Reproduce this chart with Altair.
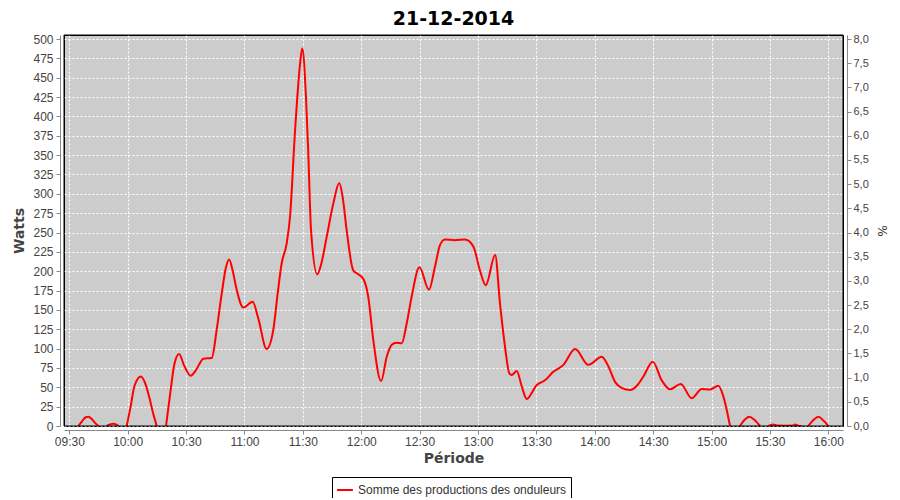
import datetime as dt
import altair as alt
import pandas as pd

TITLE = "21-12-2014"
SERIES = "Somme des productions des onduleurs"

# minutes after 09:30 and watts; one list per visible stretch
seg_minutes = [
    [4.6, 6.5, 8.2, 9.8, 11.5, 13.2, 14.9],
    [19.2, 21.0, 22.6, 24.0, 25.2],
    [29.5, 31.5, 33.5, 36.8, 39.0, 41.0, 43.0, 44.9],
    [49.7, 52.0, 54.0, 56.4, 59.0, 62.4, 65.0, 68.9, 73.2, 75.7, 78.3, 80.5, 82.1,
     84.0, 86.0, 89.4, 94.2, 97.0, 101.4, 104.8, 107.0, 109.1, 111.7, 113.4, 116.0,
     118.6, 119.7, 121.6, 122.8, 124.2, 127.4, 129.5, 132.3, 135.7, 138.7, 140.5,
     142.5, 145.9, 148.5, 151.1, 153.6, 156.2, 160.2, 163.1, 165.7, 168.0, 170.8,
     173.4, 175.9, 179.9, 184.8, 187.9, 190.5, 193.0, 198.0, 203.3, 207.6, 211.0,
     214.0, 218.8, 221.3, 223.9, 226.1, 227.3, 229.9, 232.5, 235.0, 240.2, 244.4,
     248.7, 253.9, 259.9, 266.7, 273.6, 277.0, 280.4, 284.0, 288.1, 292.0, 295.0,
     299.8, 304.4, 308.7, 314.2, 319.8, 325.0, 329.2, 333.5, 336.1, 339.5],
    [344.6, 347.0, 349.4, 352.0, 354.9],
    [359.2, 361.5, 364.0, 368.0, 372.0, 373.0, 374.5, 376.4],
    [379.7, 382.5, 384.9, 387.5, 390.0],
]
seg_watts = [
    [0, 6, 11, 12, 9, 4, 0],
    [0, 2, 3, 2, 0],
    [0, 25, 52, 64, 55, 38, 17, 0],
    [0, 45, 80, 93, 78, 65, 72, 87, 88, 124, 171, 205, 215,
     200, 176, 153, 160.6, 140, 99.5, 124, 170, 210, 236, 270, 382,
     469, 488, 425, 352, 253, 196, 210, 245, 288, 314, 295,
     253, 201, 196, 190, 167, 111, 58, 89.5, 105, 107.7, 107,
     133, 167, 205, 176, 206, 234, 241, 240, 241, 232, 201,
     182, 221, 158, 102, 68, 66, 71, 51, 35, 53, 59,
     70, 79, 99.5, 79, 89.5, 77, 57, 49, 46.5, 53, 64,
     83, 59, 47.4, 54.3, 35.8, 47.8, 47, 52, 38, 0],
    [0, 8, 12, 8, 0],
    [0, 2, 0.5, 0.3, 0.5, 2, 0.5, 0],
    [0, 8, 12, 7, 0],
]

x_ticks = ["09:30", "10:00", "10:30", "11:00", "11:30", "12:00", "12:30", "13:00",
           "13:30", "14:00", "14:30", "15:00", "15:30", "16:00"]
watt_ticks = list(range(0, 501, 25))
pct_ticks = [i * 0.5 for i in range(17)]

base = dt.datetime(2014, 12, 21, 9, 30)
rows = []
for k, (ms, ws) in enumerate(zip(seg_minutes, seg_watts)):
    for m, w in zip(ms, ws):
        t = base + dt.timedelta(minutes=m)
        rows.append({"t": t.strftime("%Y-%m-%dT%H:%M:%S"), "w": w, "seg": k, "s": SERIES})
df = pd.DataFrame(rows)


def dtobj(hh, mm, ss=0):
    return alt.DateTime(year=2014, month=12, date=21, hours=hh, minutes=mm, seconds=ss)


x_values = [dtobj(int(s[:2]), int(s[3:])) for s in x_ticks]
x_dom = [dtobj(9, 27, 16), dtobj(16, 7, 33)]

LBL = "Liberation Sans"
TTL = "DejaVu Sans"

x_enc = alt.X("t:T", scale=alt.Scale(domain=x_dom, nice=False),
              axis=alt.Axis(values=x_values, format="%H:%M", title="Période",
                            grid=True, gridColor="white", gridDash=[2, 2], gridOpacity=1,
                            gridWidth=1.2,
                            domainColor="#888888", tickColor="#888888", tickSize=4,
                            offset=4, labelFont=LBL, labelFontSize=12, labelColor="#444444",
                            labelPadding=2, titleFont=TTL, titleFontSize=14,
                            titleFontWeight="bold", titleColor="#444444", titlePadding=4))

line = alt.Chart(df).mark_line(strokeWidth=2, interpolate="monotone", clip=True).encode(
    x=x_enc,
    y=alt.Y("w:Q", scale=alt.Scale(domain=[0, 505.2], nice=False, zero=False),
            axis=alt.Axis(values=watt_ticks, title="Watts", grid=True, gridColor="white",
                          gridDash=[2, 2], gridOpacity=1, gridWidth=1.2,
                          domainColor="#888888",
                          tickColor="#888888", tickSize=4, offset=4, labelFont=LBL,
                          labelFontSize=12, labelColor="#444444", labelPadding=3,
                          titleFont=TTL, titleFontSize=14, titleFontWeight="bold",
                          titleColor="#444444", titlePadding=6)),
    detail="seg:N",
    color=alt.Color("s:N", scale=alt.Scale(domain=[SERIES], range=["#ff0000"]),
                    legend=alt.Legend(title=None, orient="none", legendX=268, legendY=442,
                                      strokeColor="black", fillColor="white", padding=4,
                                      symbolType="stroke", symbolSize=250, labelLimit=500,
                                      symbolStrokeWidth=2, labelFont=LBL, labelFontSize=12,
                                      labelColor="#333333")),
)

pct_df = pd.DataFrame({"t": ["2014-12-21T12:00:00", "2014-12-21T12:00:00"],
                       "p": [pct_ticks[0], pct_ticks[-1]]})
pct = alt.Chart(pct_df).mark_point(opacity=0).encode(
    x=x_enc,
    y=alt.Y("p:Q", scale=alt.Scale(domain=[0, 8.083], nice=False),
            axis=alt.Axis(orient="right", values=pct_ticks, grid=False, title="%",
                          labelExpr="replace(format(datum.value, '.1f'), '.', ',')",
                          domainColor="#888888", tickColor="#888888", tickSize=4, offset=4,
                          labelFont=LBL, labelFontSize=11, labelColor="#444444",
                          labelPadding=2, titleFont=TTL, titleFontSize=12,
                          titleFontWeight="normal", titleColor="#333333", titlePadding=6)),
)

frame = alt.Chart(pd.DataFrame({"f": [0]})).mark_rect(
    fillOpacity=0, stroke="black", strokeWidth=1
).encode(x=alt.value(0), x2=alt.value("width"), y=alt.value(0), y2=alt.value("height"))

chart = alt.layer(line, pct, frame).resolve_scale(y="independent").properties(
    width=779, height=391,
    title=alt.TitleParams(TITLE, font=TTL, fontSize=19, fontWeight="bold", color="black",
                          anchor="middle", frame="group", offset=4),
    autosize=alt.AutoSizeParams(type="none"),
    padding={"left": 56, "top": 27, "right": 45, "bottom": 72},
    background="white",
).configure_view(fill="#cccccc", stroke="black", strokeWidth=1, strokeOpacity=1)

chart.save("out.html", embed_options={"renderer": "svg", "actions": False})
